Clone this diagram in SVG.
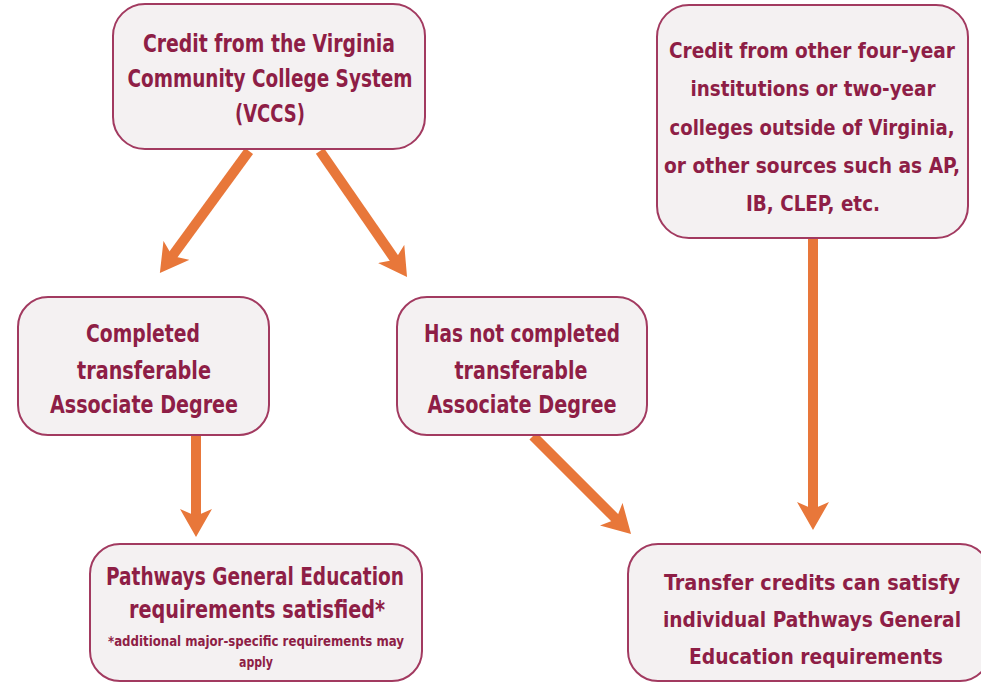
<svg xmlns="http://www.w3.org/2000/svg" width="981" height="685" viewBox="0 0 981 685">
<style>
.box{fill:#F4F1F2;stroke:#A23A60;stroke-width:2}
.t{font-family:"DejaVu Sans Condensed","Roboto",sans-serif;font-weight:bold;fill:#8E1E46;text-anchor:middle;font-size:24px}
.r{font-size:22px}
.s{font-size:14px}
.c{stroke:#E8773A;stroke-width:10;fill:none}
</style>
<defs>
<marker id="ah" viewBox="0 0 28 32" refX="10" refY="16" markerWidth="28" markerHeight="32" orient="auto" markerUnits="userSpaceOnUse">
<path d="M0,0 L28,16 L0,32 L7,16 Z" fill="#E8773A"/>
</marker>
</defs>
<rect width="981" height="685" fill="#FFFFFF"/>
<g id="connectors">
<line class="c" x1="249" y1="151" x2="170.5" y2="258.4" marker-end="url(#ah)"/>
<line class="c" x1="320" y1="151" x2="396.8" y2="262.2" marker-end="url(#ah)"/>
<line class="c" x1="196" y1="436" x2="196" y2="519" marker-end="url(#ah)"/>
<line class="c" x1="533" y1="436" x2="618.3" y2="521.3" marker-end="url(#ah)"/>
<line class="c" x1="813" y1="239" x2="813" y2="512" marker-end="url(#ah)"/>
</g>
<g id="vccs">
<rect class="box" x="113" y="4" width="312" height="145" rx="32"/>
<text class="t" x="269" y="52" textLength="252" lengthAdjust="spacingAndGlyphs">Credit from the Virginia</text>
<text class="t" x="270" y="87" textLength="285" lengthAdjust="spacingAndGlyphs">Community College System</text>
<text class="t" x="270" y="122" textLength="70" lengthAdjust="spacingAndGlyphs">(VCCS)</text>
</g>
<g id="other">
<rect class="box" x="657" y="5" width="311" height="233" rx="32"/>
<text class="t r" x="812" y="58" textLength="286" lengthAdjust="spacingAndGlyphs">Credit from other four-year</text>
<text class="t r" x="813" y="96" textLength="245" lengthAdjust="spacingAndGlyphs">institutions or two-year</text>
<text class="t r" x="812" y="135" textLength="285" lengthAdjust="spacingAndGlyphs">colleges outside of Virginia,</text>
<text class="t r" x="812" y="173" textLength="296" lengthAdjust="spacingAndGlyphs">or other sources such as AP,</text>
<text class="t r" x="813" y="211" textLength="134" lengthAdjust="spacingAndGlyphs">IB, CLEP, etc.</text>
</g>
<g id="completed">
<rect class="box" x="18" y="297" width="251" height="138" rx="30"/>
<text class="t" x="143" y="342" textLength="114" lengthAdjust="spacingAndGlyphs">Completed</text>
<text class="t" x="144" y="379" textLength="134" lengthAdjust="spacingAndGlyphs">transferable</text>
<text class="t" x="144" y="413" textLength="188" lengthAdjust="spacingAndGlyphs">Associate Degree</text>
</g>
<g id="notcompleted">
<rect class="box" x="397" y="297" width="250" height="138" rx="30"/>
<text class="t" x="522" y="342" textLength="196" lengthAdjust="spacingAndGlyphs">Has not completed</text>
<text class="t" x="521" y="379" textLength="133" lengthAdjust="spacingAndGlyphs">transferable</text>
<text class="t" x="522" y="413" textLength="189" lengthAdjust="spacingAndGlyphs">Associate Degree</text>
</g>
<g id="satisfied">
<rect class="box" x="90" y="544" width="332" height="137" rx="30"/>
<text class="t" x="255" y="585" textLength="298" lengthAdjust="spacingAndGlyphs">Pathways General Education</text>
<text class="t" x="257" y="618" textLength="256" lengthAdjust="spacingAndGlyphs">requirements satisfied*</text>
<text class="t s" x="256" y="646" textLength="296" lengthAdjust="spacingAndGlyphs">*additional major-specific requirements may</text>
<text class="t s" x="256" y="667" textLength="34" lengthAdjust="spacingAndGlyphs">apply</text>
</g>
<g id="transfer">
<rect class="box" x="628" y="544" width="362" height="137" rx="30"/>
<text class="t r" x="812" y="590" textLength="296" lengthAdjust="spacingAndGlyphs">Transfer credits can satisfy</text>
<text class="t r" x="812" y="627" textLength="298" lengthAdjust="spacingAndGlyphs">individual Pathways General</text>
<text class="t r" x="816" y="664" textLength="254" lengthAdjust="spacingAndGlyphs">Education requirements</text>
</g>
</svg>
